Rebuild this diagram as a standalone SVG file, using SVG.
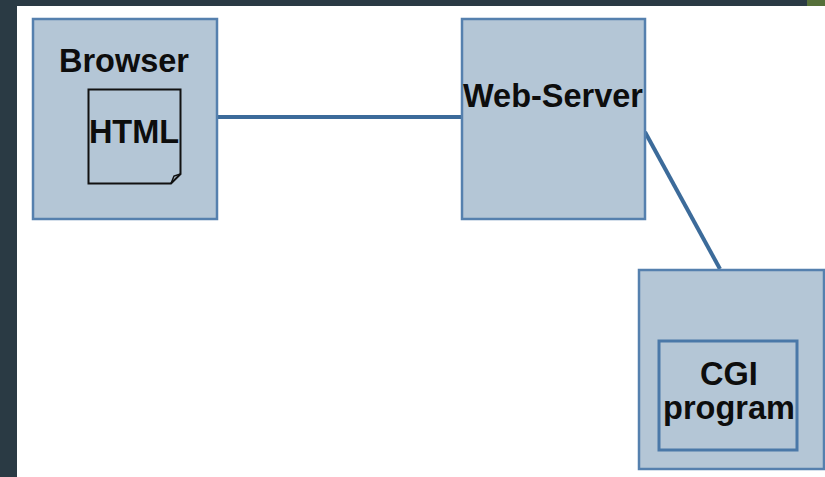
<svg xmlns="http://www.w3.org/2000/svg" width="825" height="477" viewBox="0 0 825 477">
<style>
.box{fill:#b4c6d6;stroke:#5580ae;stroke-width:2.5}
.inner{fill:#b4c6d6;stroke:#4a78a8;stroke-width:3}
.lbl{font-family:"Liberation Sans",Arial,sans-serif;font-weight:bold;font-size:32.5px;fill:#0d0d0d;text-anchor:middle}
.conn{stroke:#3c6b9a;stroke-width:4;fill:none}
</style>
<rect x="0" y="0" width="825" height="477" fill="#2a3a44"/>
<rect x="807" y="0" width="18" height="6" fill="#56703a"/>
<rect x="17" y="6" width="808" height="471" fill="#ffffff"/>
<g id="connectors">
<line class="conn" x1="217" y1="117" x2="462" y2="117"/>
<line class="conn" x1="645" y1="132" x2="720" y2="269"/>
</g>
<g id="browser">
<rect class="box" x="33" y="19" width="184" height="200"/>
<text class="lbl" x="124" y="72">Browser</text>
<g id="html">
<path d="M88.5,89.5 H180.5 V174 L171,183.5 H88.5 Z" fill="none" stroke="#111" stroke-width="2"/>
<path d="M180.5,174 L174,176 L171,183.5" fill="none" stroke="#111" stroke-width="1.5"/>
<text class="lbl" x="134" y="143">HTML</text>
</g>
</g>
<g id="webserver">
<rect class="box" x="462" y="19" width="183" height="200"/>
<text class="lbl" x="553" y="107">Web-Server</text>
</g>
<g id="cgihost">
<rect class="box" x="639" y="270" width="185" height="199"/>
<g id="cgi">
<rect class="inner" x="659" y="341" width="138" height="109"/>
<text class="lbl" x="729" y="385">CGI</text>
<text class="lbl" x="729" y="419">program</text>
</g>
</g>
</svg>
